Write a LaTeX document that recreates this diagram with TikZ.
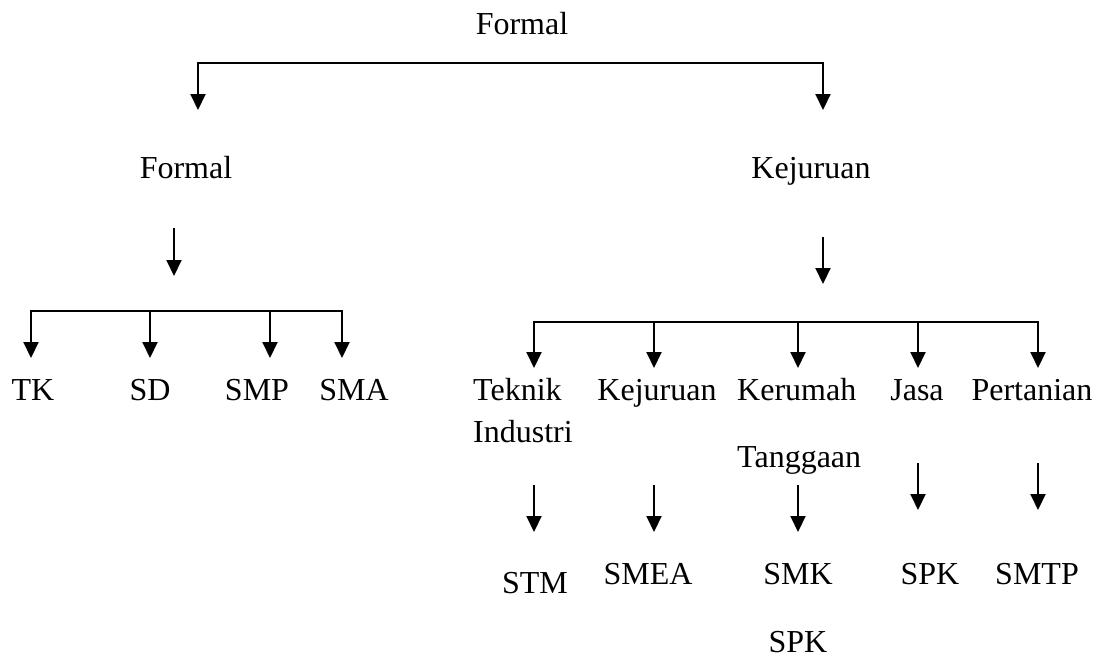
\documentclass[tikz,border=0pt]{standalone}
\usepackage{fontspec}
\setmainfont{Liberation Serif}
\usetikzlibrary{arrows.meta}

\begin{document}
\begin{tikzpicture}[
  x=1pt, y=-1pt,
  lbl/.style={font=\fontsize{32}{38}\selectfont, inner sep=0pt, anchor=base},
  lbl2/.style={lbl, align=left, anchor=base west},
  arr/.style={-{Triangle[length=16pt,width=15pt]}, line width=2pt},
  fork/.style={{Triangle[length=16pt,width=15pt]}-{Triangle[length=16pt,width=15pt]}, line width=2pt, line join=miter}
]
\useasboundingbox (0,0) rectangle (1103,657);

\node[lbl] (root) at (522,34) {Formal};
\node[lbl] (formal) at (186,178) {Formal};
\node[lbl] (kej) at (811,178) {Kejuruan};

\node[lbl] (tk) at (33,400) {TK};
\node[lbl] (sd) at (150,400) {SD};
\node[lbl] (smp) at (257,400) {SMP};
\node[lbl] (sma) at (354,400) {SMA};

% multi-line nodes sit on their last baseline
\node[lbl2] (teknik) at (473,442) {Teknik\\[4pt]Industri};
\node[lbl] (kejuruan) at (657,400) {Kejuruan};
\node[lbl2] (rumah) at (737,467) {Kerumah\\[29pt]Tanggaan};
\node[lbl] (jasa) at (917,400) {Jasa};
\node[lbl] (tani) at (1032,400) {Pertanian};

\node[lbl] (stm) at (535,593) {STM};
\node[lbl] (smea) at (648,584) {SMEA};
\node[lbl, align=center] (smk) at (798,652) {SMK\\[30pt]SPK};
\node[lbl] (spk) at (930,584) {SPK};
\node[lbl] (smtp) at (1037,584) {SMTP};

% forks
\coordinate (a1) at (198,110); \coordinate (a2) at (198,63);
\coordinate (a3) at (823,63); \coordinate (a4) at (823,110);
\draw[fork] (a1)--(a2)--(a3)--(a4);

\coordinate (b1) at (31,358); \coordinate (b2) at (31,311);
\coordinate (b3) at (342,311); \coordinate (b4) at (342,358);
\draw[fork] (b1)--(b2)--(b3)--(b4);
\coordinate (b5) at (150,311); \coordinate (b6) at (150,358);
\coordinate (b7) at (270,311); \coordinate (b8) at (270,358);
\draw[arr] (b5)--(b6); \draw[arr] (b7)--(b8);

\coordinate (c1) at (534,368); \coordinate (c2) at (534,322);
\coordinate (c3) at (1038,322); \coordinate (c4) at (1038,368);
\draw[fork] (c1)--(c2)--(c3)--(c4);
\coordinate (c5) at (654,322); \coordinate (c6) at (654,368);
\coordinate (c7) at (798,322); \coordinate (c8) at (798,368);
\coordinate (c9) at (918,322); \coordinate (c10) at (918,368);
\draw[arr] (c5)--(c6); \draw[arr] (c7)--(c8); \draw[arr] (c9)--(c10);

% single arrows
\coordinate (d1) at (174,228); \coordinate (d2) at (174,276);
\coordinate (e1) at (823,237); \coordinate (e2) at (823,284);
\draw[arr] (d1)--(d2); \draw[arr] (e1)--(e2);

\coordinate (f1) at (534,485); \coordinate (f2) at (534,532);
\coordinate (g1) at (654,485); \coordinate (g2) at (654,532);
\coordinate (h1) at (798,485); \coordinate (h2) at (798,532);
\coordinate (i1) at (918,463); \coordinate (i2) at (918,510);
\coordinate (j1) at (1038,463); \coordinate (j2) at (1038,510);
\draw[arr] (f1)--(f2); \draw[arr] (g1)--(g2); \draw[arr] (h1)--(h2);
\draw[arr] (i1)--(i2); \draw[arr] (j1)--(j2);
\end{tikzpicture}
\end{document}
